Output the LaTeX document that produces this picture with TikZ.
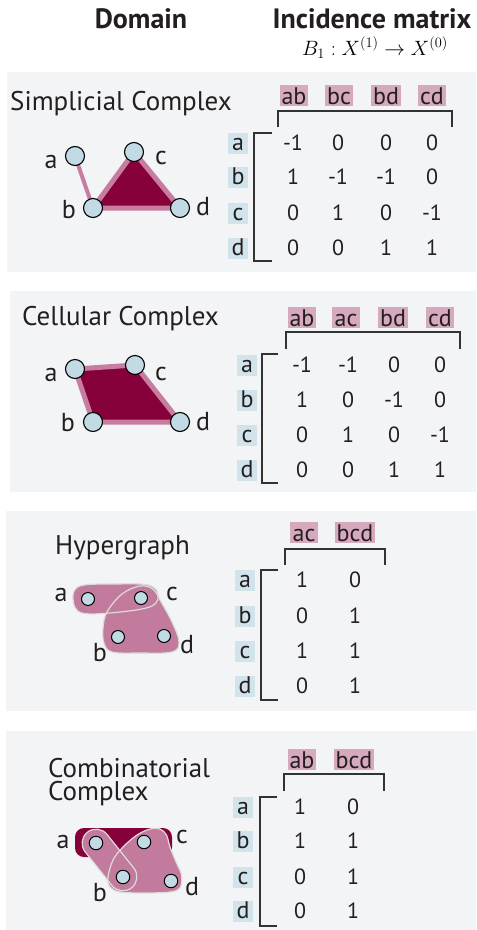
\documentclass[tikz,border=0pt]{standalone}
\usepackage{fontspec}
\setmainfont{PT Sans}
\usetikzlibrary{calc}
\definecolor{panelbg}{HTML}{F3F4F6}
\definecolor{maroon}{HTML}{86003A}
\definecolor{pinkedge}{HTML}{C77D9F}
\definecolor{pinkfill}{HTML}{C27B9C}
\definecolor{pinklab}{HTML}{D6A9BE}
\definecolor{bluelab}{HTML}{D2E4EB}
\definecolor{nodeblue}{HTML}{C1DAE4}
\definecolor{outl}{HTML}{DCDCDC}
\definecolor{brk}{HTML}{333333}
\definecolor{ink}{HTML}{231F20}
\tikzset{
  panel/.style={fill=panelbg, draw=none},
  vtx/.style={circle, draw=black, fill=nodeblue, line width=1.1pt, minimum size=19pt, inner sep=0pt},
  svtx/.style={vtx, minimum size=13pt, line width=1pt},
  vlab/.style={font=\fontsize{26}{26}\selectfont, inner sep=0pt, anchor=base, text=ink},
  title/.style={font=\bfseries\fontsize{28}{28}\selectfont, inner sep=0pt, anchor=base, text=ink},
  dom/.style={font=\fontsize{27}{27}\selectfont, anchor=base west, inner sep=0pt, text=ink},
  colh/.style={fill=pinklab, font=\fontsize{24}{24}\selectfont, inner xsep=2pt, inner ysep=0pt,
    text height=19pt, text depth=2pt, minimum width=28pt, anchor=base, text=ink},
  rowh/.style={fill=bluelab, font=\fontsize{24}{24}\selectfont, inner xsep=0pt, inner ysep=0pt,
    text height=17pt, text depth=4pt, minimum width=20pt, anchor=base, text=ink},
  ent/.style={font=\fontsize{22}{22}\selectfont, inner sep=0pt, anchor=base, text=ink},
  brack/.style={draw=brk, line width=1.4pt},
  pinkline/.style={draw=pinkedge, line width=5pt, line join=round, line cap=round},
  hedge/.style={fill=pinkfill},
  hout/.style={draw=outl, line width=1.2pt},
}
\newcommand\matrow[5]{%
  \node[rowh] (#1#4) at (#3,#2) {#4};
  \foreach \xx/\vv [count=\ii] in {#5} \node[ent] (#1#4\ii) at (\xx,#2) {\vv};
}
\begin{document}
\begin{tikzpicture}[x=1pt,y=-1pt]
\useasboundingbox (0,0) rectangle (477,930);
\fill[white] (0,0) rectangle (477,930);

% panels
\path[panel] (7,72) rectangle (476,272);
\path[panel] (10,291) rectangle (476,492);
\path[panel] (6,511) rectangle (476,711);
\path[panel] (6,731) rectangle (476,930);

% titles
\node[title] (tdom) at (141,28) {Domain};
\node[title] (tinc) at (372,28) {Incidence matrix};
\node[inner sep=0pt, anchor=base, font=\fontsize{20}{20}\selectfont] (tmap) at (375,55.5) {$B_1 : X^{(1)} \to X^{(0)}$};

% ================= Panel 1: simplicial complex
\node[dom] (d1) at (10,110) {Simplicial Complex};
\coordinate (a1) at (75,156);
\coordinate (c1) at (134,152);
\coordinate (b1) at (93,208);
\coordinate (dd1) at (180,208);
\draw[pinkline, line width=4pt] (a1) -- (b1);
\filldraw[pinkline, fill=maroon] (b1) -- (c1) -- (dd1) -- cycle;
\node[vtx] (na1) at (a1) {};
\node[vtx] (nc1) at (c1) {};
\node[vtx] (nb1) at (b1) {};
\node[vtx] (nd1) at (dd1) {};
\node[vlab] (la1) at (51,168) {a};
\node[vlab] (lc1) at (161,164) {c};
\node[vlab] (lb1) at (69,218) {b};
\node[vlab] (ld1) at (203,215) {d};

\node[colh] (h1ab) at (294,104) {ab};
\node[colh] (h1bc) at (339,104) {bc};
\node[colh] (h1bd) at (386,104) {bd};
\node[colh] (h1cd) at (432,104) {cd};
\draw[brack] (278,127) -- (278,111) -- (452,111) -- (452,127);
\draw[brack] (272,133) -- (254,133) -- (254,261) -- (272,261);
\matrow{m1}{150}{238}{a}{293/-1,338/0,386/0,432/0}
\matrow{m1}{184}{238}{b}{293/1,338/-1,386/-1,432/0}
\matrow{m1}{220}{238}{c}{293/0,338/1,386/0,432/-1}
\matrow{m1}{255}{238}{d}{293/0,338/0,386/1,432/1}

% ================= Panel 2: cellular complex
\node[dom] (d2) at (22,325) {Cellular Complex};
\coordinate (a2) at (75,369);
\coordinate (c2) at (135,365);
\coordinate (b2) at (93,422);
\coordinate (dd2) at (180,422);
\filldraw[pinkline, fill=maroon] (a2) -- (c2) -- (dd2) -- (b2) -- cycle;
\node[vtx] (na2) at (a2) {};
\node[vtx] (nc2) at (c2) {};
\node[vtx] (nb2) at (b2) {};
\node[vtx] (nd2) at (dd2) {};
\node[vlab] (la2) at (51,381.5) {a};
\node[vlab] (lc2) at (161,380) {c};
\node[vlab] (lb2) at (68,431.5) {b};
\node[vlab] (ld2) at (203,430) {d};

\node[colh] (h2ab) at (302,326) {ab};
\node[colh] (h2ac) at (346,326) {ac};
\node[colh] (h2bd) at (393,326) {bd};
\node[colh] (h2cd) at (440,326) {cd};
\draw[brack] (286,349) -- (286,332) -- (460,332) -- (460,349);
\draw[brack] (278,354) -- (262,354) -- (262,483) -- (278,483);
\matrow{m2}{372}{247}{a}{302/-1,348/-1,394/0,440/0}
\matrow{m2}{407}{247}{b}{302/1,348/0,394/-1,440/0}
\matrow{m2}{442}{247}{c}{302/0,348/1,394/0,440/-1}
\matrow{m2}{477}{247}{d}{302/0,348/0,394/1,440/1}

% ================= Panel 3: hypergraph
\node[dom] (d3) at (55,554) {Hypergraph};
\coordinate (a3) at (88,599);
\coordinate (c3) at (141,598);
\coordinate (b3) at (118,637);
\coordinate (dd3) at (164,636);
\path[hedge] plot[smooth cycle, tension=0.6] coordinates {(73,599) (80,586) (115,584) (148,585) (158,594) (152,606) (120,612) (82,613)};
\path[hedge] plot[smooth cycle, tension=0.6] coordinates {(107,612) (122,594) (140,586) (153,589) (160,600) (172,622) (179,642) (172,652) (140,653) (112,652) (104,643) (103,628)};
\path[hout] plot[smooth cycle, tension=0.6] coordinates {(73,599) (80,586) (115,584) (148,585) (158,594) (152,606) (120,612) (82,613)};
\path[hout] plot[smooth cycle, tension=0.6] coordinates {(107,612) (122,594) (140,586) (153,589) (160,600) (172,622) (179,642) (172,652) (140,653) (112,652) (104,643) (103,628)};
\node[svtx] (na3) at (a3) {};
\node[svtx] (nc3) at (c3) {};
\node[svtx] (nb3) at (b3) {};
\node[svtx] (nd3) at (dd3) {};
\node[vlab] (la3) at (61,601.5) {a};
\node[vlab] (lc3) at (172,600) {c};
\node[vlab] (lb3) at (100,661.5) {b};
\node[vlab] (ld3) at (187,653) {d};

\node[colh] (h3ac) at (304,541) {ac};
\node[colh] (h3bcd) at (355,541) {bcd};
\draw[brack] (285,565) -- (285,549) -- (385,549) -- (385,565);
\draw[brack] (278,570) -- (261,570) -- (261,700) -- (278,700);
\matrow{m3}{587}{245}{a}{302/1,355/0}
\matrow{m3}{623}{245}{b}{302/0,355/1}
\matrow{m3}{658}{245}{c}{302/1,355/1}
\matrow{m3}{693}{245}{d}{302/0,355/1}

% ================= Panel 4: combinatorial complex
\node[dom] (d4a) at (48,777) {Combinatorial};
\node[dom] (d4b) at (48,800) {Complex};
\coordinate (a4) at (96,843);
\coordinate (c4) at (144,842);
\coordinate (b4) at (123,877);
\coordinate (dd4) at (171,881);
\fill[maroon, rounded corners=9pt] (75,828) rectangle (172,857);
\node[hedge, rounded corners=14pt, minimum width=71pt, minimum height=28pt, rotate=-51.5, inner sep=0pt] (cab) at ($(a4)!0.5!(b4)$) {};
\path[hedge] plot[smooth cycle, tension=0.55] coordinates {(108,877) (113,860) (123,847) (137,835) (150,829) (160,829) (166.5,835) (170,847) (176.5,863) (181.5,875) (180,888) (170,892) (145,893) (120,892) (110,887)};
\node[hout, rounded corners=14pt, minimum width=71pt, minimum height=28pt, rotate=-51.5, inner sep=0pt] (cabo) at ($(a4)!0.5!(b4)$) {};
\path[hout] plot[smooth cycle, tension=0.55] coordinates {(108,877) (113,860) (123,847) (137,835) (150,829) (160,829) (166.5,835) (170,847) (176.5,863) (181.5,875) (180,888) (170,892) (145,893) (120,892) (110,887)};
\node[svtx, minimum size=13.5pt] (na4) at (a4) {};
\node[svtx, minimum size=13.5pt] (nc4) at (c4) {};
\node[svtx, minimum size=13.5pt] (nb4) at (b4) {};
\node[svtx, minimum size=13.5pt] (nd4) at (dd4) {};
\node[vlab] (la4) at (63,848) {a};
\node[vlab] (lc4) at (182,843) {c};
\node[vlab] (lb4) at (100,901.5) {b};
\node[vlab] (ld4) at (192,895) {d};

\node[colh] (h4ab) at (302,768) {ab};
\node[colh] (h4bcd) at (354,768) {bcd};
\draw[brack] (284,791) -- (284,774) -- (384,774) -- (384,791);
\draw[brack] (277,797) -- (260,797) -- (260,926) -- (277,926);
\matrow{m4}{814}{243}{a}{300/1,353/0}
\matrow{m4}{848}{243}{b}{300/1,353/1}
\matrow{m4}{884}{243}{c}{300/0,353/1}
\matrow{m4}{918}{243}{d}{300/0,353/1}
\end{tikzpicture}
\end{document}
